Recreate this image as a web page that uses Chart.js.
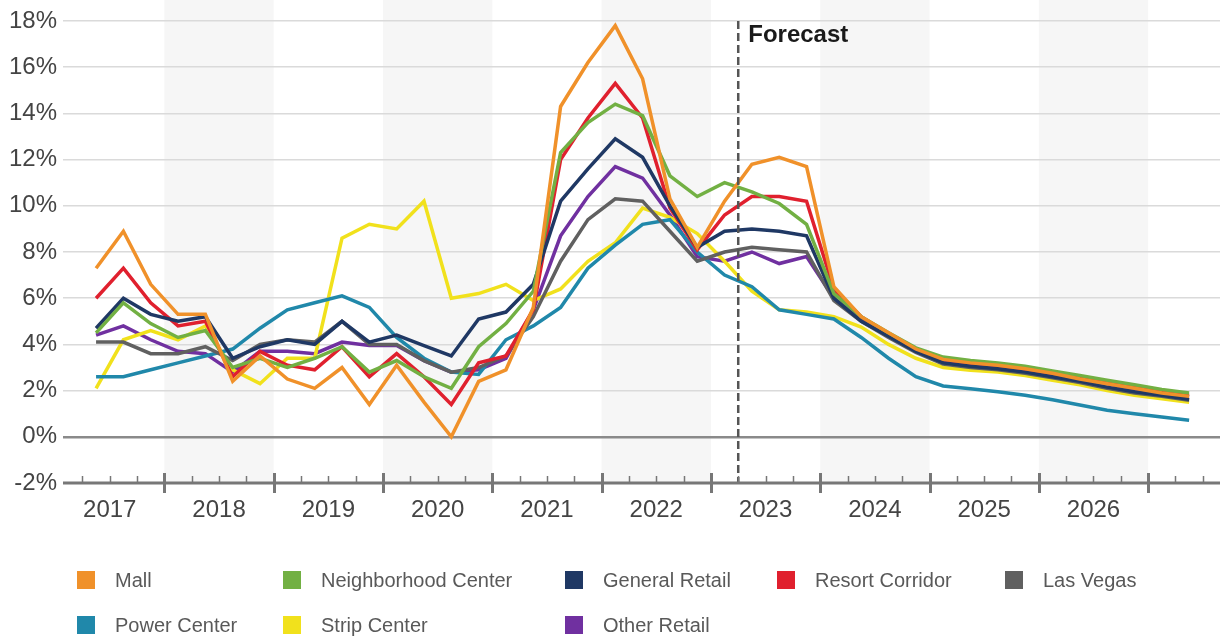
<!DOCTYPE html>
<html>
<head>
<meta charset="utf-8">
<script src="https://cdn.jsdelivr.net/npm/chart.js@4.4.1/dist/chart.umd.min.js"></script>
<style>
  html, body { margin: 0; padding: 0; background: #fff; }
  #wrap { width: 1224px; height: 639px; position: relative; }
</style>
</head>
<body>
<div id="wrap"><canvas id="vacancy"></canvas></div>
<script>
// quarterly points
const quarters = [
  '2017 Q2', '2017 Q3', '2017 Q4', '2018 Q1', '2018 Q2', '2018 Q3', '2018 Q4',
  '2019 Q1', '2019 Q2', '2019 Q3', '2019 Q4', '2020 Q1', '2020 Q2', '2020 Q3', '2020 Q4',
  '2021 Q1', '2021 Q2', '2021 Q3', '2021 Q4', '2022 Q1', '2022 Q2', '2022 Q3', '2022 Q4',
  '2023 Q1', '2023 Q2', '2023 Q3', '2023 Q4', '2024 Q1', '2024 Q2', '2024 Q3', '2024 Q4',
  '2025 Q1', '2025 Q2', '2025 Q3', '2025 Q4', '2026 Q1', '2026 Q2', '2026 Q3', '2026 Q4',
  '2027 Q1', '2027 Q2'
];

const mall = [7.3, 8.9, 6.6, 5.3, 5.3, 2.4, 3.5, 2.5, 2.1, 3.0, 1.4, 3.1, 1.5, 0.0, 2.4, 2.9, 5.6, 14.3, 16.2, 17.8, 15.5, 10.3, 8.2, 10.2, 11.8, 12.1, 11.7, 6.5, 5.2, 4.5, 3.8, 3.35, 3.2, 3.1, 2.95, 2.75, 2.5, 2.3, 2.1, 1.9, 1.75];
const neighborhood = [4.5, 5.8, 4.9, 4.3, 4.6, 3.0, 3.4, 3.0, 3.4, 3.9, 2.8, 3.3, 2.6, 2.1, 3.9, 4.9, 6.3, 12.3, 13.6, 14.4, 13.9, 11.3, 10.4, 11.0, 10.6, 10.1, 9.2, 6.2, 5.2, 4.5, 3.85, 3.45, 3.3, 3.2, 3.05, 2.85, 2.65, 2.45, 2.25, 2.05, 1.9];
const generalRetail = [4.7, 6.0, 5.3, 5.0, 5.2, 3.4, 3.9, 4.2, 4.0, 5.0, 4.1, 4.4, 3.95, 3.5, 5.1, 5.4, 6.6, 10.2, 11.6, 12.9, 12.1, 10.0, 8.2, 8.9, 9.0, 8.9, 8.7, 6.0, 5.0, 4.35, 3.7, 3.2, 3.05, 2.95, 2.8, 2.6, 2.4, 2.15, 1.95, 1.8, 1.62];
const resort = [6.0, 7.3, 5.8, 4.8, 5.0, 2.6, 3.7, 3.1, 2.9, 3.9, 2.6, 3.6, 2.6, 1.4, 3.2, 3.5, 5.5, 12.0, 13.8, 15.3, 13.8, 9.9, 8.1, 9.6, 10.4, 10.4, 10.2, 6.4, 5.2, 4.45, 3.8, 3.35, 3.2, 3.1, 2.95, 2.75, 2.55, 2.35, 2.15, 1.95, 1.8];
const lasVegas = [4.1, 4.1, 3.6, 3.6, 3.9, 3.3, 4.0, 4.2, 4.1, 5.0, 4.0, 4.0, 3.3, 2.8, 3.0, 3.5, 5.2, 7.6, 9.4, 10.3, 10.2, 8.9, 7.6, 8.0, 8.2, 8.1, 8.0, 5.9, 5.0, 4.3, 3.65, 3.15, 3.0, 2.9, 2.75, 2.55, 2.35, 2.1, 1.9, 1.75, 1.58];
const powerCenter = [2.6, 2.6, 2.9, 3.2, 3.5, 3.8, 4.7, 5.5, 5.8, 6.1, 5.6, 4.3, 3.4, 2.8, 2.7, 4.2, 4.8, 5.6, 7.3, 8.3, 9.2, 9.4, 8.0, 7.0, 6.5, 5.5, 5.3, 5.1, 4.3, 3.4, 2.6, 2.2, 2.08, 1.95, 1.8, 1.6, 1.38, 1.15, 1.0, 0.86, 0.72];
const stripCenter = [2.1, 4.2, 4.6, 4.2, 4.8, 2.9, 2.3, 3.4, 3.4, 8.6, 9.2, 9.0, 10.2, 6.0, 6.2, 6.6, 5.9, 6.4, 7.6, 8.4, 9.9, 9.5, 8.8, 7.6, 6.3, 5.5, 5.4, 5.2, 4.75, 4.0, 3.4, 3.0, 2.88, 2.8, 2.65, 2.45, 2.25, 2.0, 1.8, 1.65, 1.5];
const otherRetail = [4.4, 4.8, 4.2, 3.7, 3.6, 2.8, 3.7, 3.7, 3.6, 4.1, 3.95, 3.95, 3.3, 2.8, 2.9, 3.4, 5.5, 8.7, 10.4, 11.7, 11.2, 9.6, 7.8, 7.6, 8.0, 7.5, 7.8, 6.0, 5.1, 4.4, 3.75, 3.3, 3.15, 3.05, 2.9, 2.7, 2.5, 2.3, 2.05, 1.9, 1.72];

const years = ['2017', '2018', '2019', '2020', '2021', '2022', '2023', '2024', '2025', '2026'];
const shadedYears = ['2018', '2020', '2022', '2024', '2026'];
const forecastFrom = '2023 Q2';

const FONT = '"Liberation Sans", Arial, sans-serif';
const AXIS_TEXT = '#444';
const LEGEND_TEXT = '#595959';

// quarters counted from the start of 2017
const qPos = (label) => {
  const [yr, q] = label.split(' Q');
  return (Number(yr) - 2017) * 4 + (Number(q) - 1);
};
const points = (vals) => vals.map((v, i) => ({ x: qPos(quarters[i]) + 0.5, y: v }));

const series = [
  { label: 'Mall', data: mall, color: '#F0912A' },
  { label: 'Neighborhood Center', data: neighborhood, color: '#72B043' },
  { label: 'General Retail', data: generalRetail, color: '#1F3864' },
  { label: 'Resort Corridor', data: resort, color: '#E0202E' },
  { label: 'Las Vegas', data: lasVegas, color: '#606060' },
  { label: 'Power Center', data: powerCenter, color: '#2088AA' },
  { label: 'Strip Center', data: stripCenter, color: '#F1E11C' },
  { label: 'Other Retail', data: otherRetail, color: '#7030A0' }
];

const decor = {
  id: 'decor',
  beforeDraw(chart) {
    const { ctx, chartArea } = chart;
    const x = chart.scales.x;
    ctx.save();
    ctx.fillStyle = '#f6f6f6';
    shadedYears.forEach((yr) => {
      const a = x.getPixelForValue((Number(yr) - 2017) * 4);
      const b = x.getPixelForValue((Number(yr) - 2017) * 4 + 4);
      const l = Math.max(a, chartArea.left), r = Math.min(b, chartArea.right);
      ctx.fillRect(l, 0, r - l, chartArea.bottom);
    });
    ctx.restore();
  },
  afterDraw(chart) {
    const { ctx, chartArea } = chart;
    const x = chart.scales.x;
    const axisY = chart.scales.y.getPixelForValue(-2);
    ctx.save();

    // forecast marker
    const fx = x.getPixelForValue(qPos(forecastFrom));
    ctx.strokeStyle = '#555';
    ctx.lineWidth = 2.5;
    ctx.setLineDash([8, 4]);
    ctx.beginPath();
    ctx.moveTo(fx, chartArea.top);
    ctx.lineTo(fx, axisY);
    ctx.stroke();
    ctx.setLineDash([]);
    ctx.fillStyle = '#1a1a1a';
    ctx.font = 'bold 24px ' + FONT;
    ctx.textAlign = 'left';
    ctx.textBaseline = 'middle';
    ctx.fillText('Forecast', fx + 10, 35);

    // bottom axis with quarter / year ticks
    ctx.strokeStyle = '#777';
    ctx.lineWidth = 3;
    ctx.beginPath();
    ctx.moveTo(chartArea.left, axisY);
    ctx.lineTo(chartArea.right, axisY);
    ctx.stroke();
    for (let v = Math.ceil(x.min); v <= Math.floor(x.max); v++) {
      const px = Math.round(x.getPixelForValue(v)) + 0.5;
      ctx.beginPath();
      if (v % 4 === 0) {
        ctx.lineWidth = 3;
        ctx.moveTo(px, axisY - 10);
        ctx.lineTo(px, axisY + 10);
      } else {
        ctx.lineWidth = 1.5;
        ctx.moveTo(px, axisY - 7);
        ctx.lineTo(px, axisY);
      }
      ctx.stroke();
    }
    ctx.fillStyle = AXIS_TEXT;
    ctx.font = '24px ' + FONT;
    ctx.textAlign = 'center';
    years.forEach((yr) => {
      ctx.fillText(yr, x.getPixelForValue((Number(yr) - 2017) * 4 + 2), axisY + 27);
    });

    // legend
    const cols = [77, 283, 565, 777, 1005];
    const rows = [580, 625];
    ctx.font = '20px ' + FONT;
    ctx.textAlign = 'left';
    chart.data.datasets.forEach((ds, i) => {
      const row = i < 5 ? 0 : 1;
      const cx = cols[i < 5 ? i : i - 5];
      const cy = rows[row];
      ctx.fillStyle = ds.borderColor;
      ctx.fillRect(cx, cy - 9, 18, 18);
      ctx.fillStyle = LEGEND_TEXT;
      ctx.fillText(ds.label, cx + 38, cy + 1);
    });
    ctx.restore();
  }
};

new Chart(document.getElementById('vacancy'), {
  type: 'line',
  data: {
    datasets: series.map((s) => ({
      label: s.label,
      data: points(s.data),
      borderColor: s.color,
      backgroundColor: s.color,
      borderWidth: 3.5,
      pointRadius: 0,
      tension: 0,
      fill: false
    }))
  },
  options: {
    responsive: true,
    maintainAspectRatio: false,
    devicePixelRatio: 1,
    animation: false,
    layout: { padding: { top: 21, right: 4, left: 0, bottom: 0 } },
    plugins: { legend: { display: false }, tooltip: { enabled: false } },
    scales: {
      x: {
        type: 'linear',
        min: 0.29,
        max: 42.63,
        ticks: { display: false },
        grid: { display: false },
        border: { display: false },
        afterFit: (scale) => { scale.height = 156; }
      },
      y: {
        min: -2,
        max: 18,
        ticks: {
          stepSize: 2,
          padding: 6,
          color: AXIS_TEXT,
          font: { family: FONT, size: 24 },
          callback: (v) => v + '%'
        },
        grid: {
          drawTicks: false,
          color: (c) => c.tick.value === 0 ? '#8a8a8a' : (c.tick.value === -2 ? 'rgba(0,0,0,0)' : '#dadada'),
          lineWidth: (c) => c.tick.value === 0 ? 2.5 : 1.5
        },
        border: { display: false },
        afterFit: (scale) => { scale.width = 63; }
      }
    }
  },
  plugins: [decor]
});
</script>
</body>
</html>
